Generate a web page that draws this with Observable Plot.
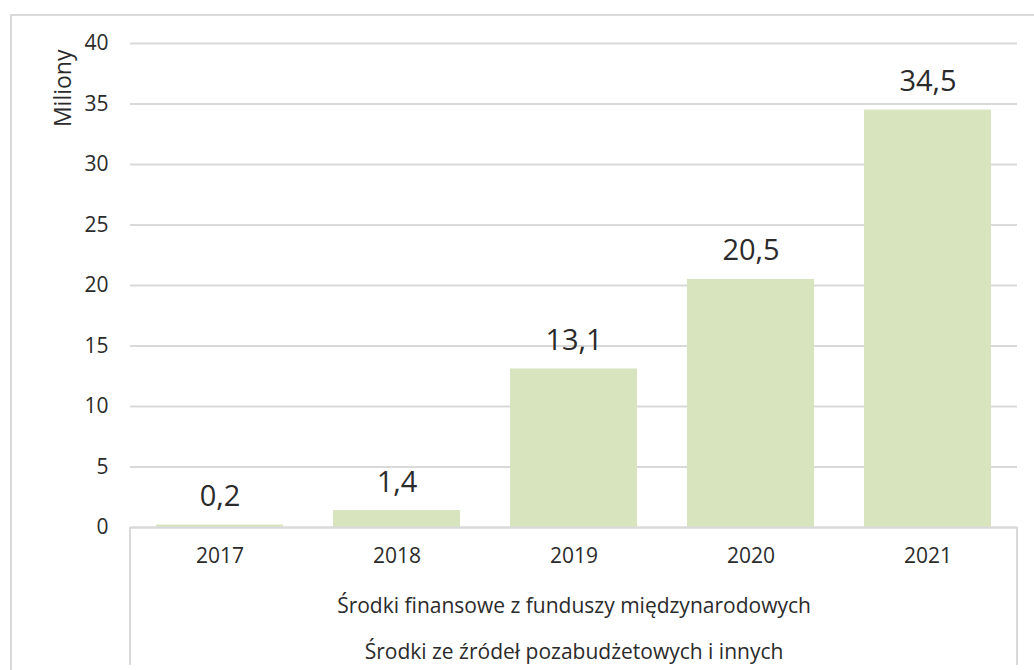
<!DOCTYPE html>
<html>
<head>
<meta charset="utf-8">
<script src="https://cdn.jsdelivr.net/npm/d3@7"></script>
<script src="https://cdn.jsdelivr.net/npm/@observablehq/plot@0.6"></script>
<style>
  html, body { margin: 0; padding: 0; background: #fff; overflow: hidden; }
  #wrap { position: relative; width: 1034px; height: 670px; }
  #border { position: absolute; left: 10px; top: 14px; width: 1100px; height: 700px; border: 2px solid #d9d9d9; box-sizing: border-box; pointer-events: none; }
  #chart { position: absolute; left: 0; top: 0; }
</style>
</head>
<body>
<div id="wrap"><div id="border"></div><div id="chart"></div></div>
<script>
const years = ["2017", "2018", "2019", "2020", "2021"];
const values = [0.2, 1.4, 13.1, 20.5, 34.5];
const yTicks = [0, 5, 10, 15, 20, 25, 30, 35, 40];
const yLabel = "Miliony";
const groupLabels = [
  "Środki finansowe z funduszy międzynarodowych",
  "Środki ze źródeł pozabudżetowych i innych"
];

const data = years.map((y, i) => ({year: y, value: values[i]}));
const fmt = v => v.toFixed(1).replace(".", ",");
const textColor = "#2b2b2b";
const gridColor = "#d9d9d9";

// box lines of the category axis (left/right edges under the plot)
const boxLines = (index, scales, values, dims) => {
  const g = d3.create("svg:g");
  const x0 = dims.marginLeft, x1 = dims.width - dims.marginRight;
  const yTop = dims.height - dims.marginBottom, yBot = dims.height - 5;
  for (const x of [x0, x1]) {
    g.append("line").attr("x1", x).attr("x2", x).attr("y1", yTop).attr("y2", yBot)
      .attr("stroke", gridColor).attr("stroke-width", 2);
  }
  return g.node();
};

const chart = Plot.plot({
  width: 1034,
  height: 670,
  marginLeft: 130,
  marginRight: 17,
  marginTop: 43,
  marginBottom: 143,
  style: {fontFamily: "'Open Sans', sans-serif", fontSize: "20px", color: textColor, background: "transparent"},
  x: {domain: years, paddingInner: 0.28, paddingOuter: 0.14, label: null},
  y: {domain: [0, 40], label: null},
  marks: [
    Plot.gridY(yTicks, {stroke: gridColor, strokeOpacity: 1, strokeWidth: 2}),
    Plot.barY(data, {x: "year", y: "value", fill: "#d7e4bd"}),
    Plot.ruleY([0], {stroke: gridColor, strokeWidth: 2}),
    boxLines,
    Plot.axisY(yTicks, {tickSize: 0, tickPadding: 22, fontSize: 21, fill: textColor, tickFormat: d => d, label: null}),
    Plot.axisX({tickSize: 0, tickPadding: 21, fontSize: 21, fill: textColor, label: null}),
    Plot.text(data, {x: "year", y: "value", text: d => fmt(d.value), lineAnchor: "bottom", dy: -19, fontSize: 29, fill: textColor}),
    Plot.text([groupLabels[0]], {frameAnchor: "bottom", lineAnchor: "bottom", dy: 85, fontSize: 21, fill: textColor}),
    Plot.text([groupLabels[1]], {frameAnchor: "bottom", lineAnchor: "bottom", dy: 131, fontSize: 21, fill: textColor}),
    Plot.text([yLabel], {frameAnchor: "top-left", rotate: -90, textAnchor: "end", lineAnchor: "bottom", dx: -60, dy: 6, fontSize: 23, fill: textColor})
  ]
});
document.getElementById("chart").appendChild(chart);
</script>
</body>
</html>
